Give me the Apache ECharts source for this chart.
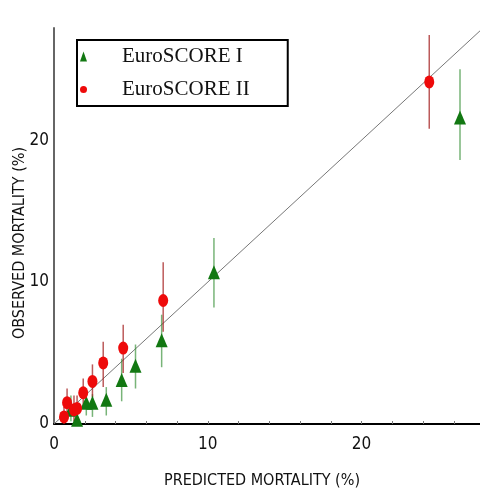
<!DOCTYPE html>
<html>
<head>
<meta charset="utf-8">
<style>
  html, body { margin: 0; padding: 0; background: #fff; }
  #charts { width: 480px; height: 493px; }
</style>
<script src="https://cdn.jsdelivr.net/npm/echarts@6/dist/echarts.min.js"></script>
</head>
<body>
<div id="charts"></div>
<script>
// EuroSCORE I (green triangles): predicted, observed, CI low / high
var euro1Pred = [1.1, 1.5, 2.1, 2.5, 3.4, 4.4, 5.3, 7.0, 10.4, 26.4];
var euro1Obs  = [1.0, 0.3, 1.5, 1.5, 1.7, 3.1, 4.1, 5.9, 10.7, 21.6];
var euro1Lo   = [0.2, 0.0, 0.6, 0.5, 0.6, 1.6, 2.5, 4.0, 8.2, 18.6];
var euro1Hi   = [2.0, 0.9, 2.2, 2.1, 2.6, 4.6, 5.6, 7.7, 13.1, 25.0];

// EuroSCORE II (red dots)
var euro2Pred = [0.65, 0.85, 1.3, 1.5, 1.9, 2.5, 3.2, 4.5, 7.1, 24.4];
var euro2Obs  = [0.5, 1.5, 1.0, 1.1, 2.2, 3.0, 4.3, 5.35, 8.7, 24.1];
var euro2Lo   = [0.0, 0.3, 0.2, 0.3, 1.2, 1.9, 2.6, 3.6, 6.5, 20.8];
var euro2Hi   = [1.2, 2.5, 2.0, 2.0, 3.2, 4.2, 5.8, 7.0, 11.4, 27.4];

var identityLine = [0, 30];
var seriesNames = ['EuroSCORE I', 'EuroSCORE II'];
var xTitle = 'PREDICTED MORTALITY (%)';
var yTitle = 'OBSERVED MORTALITY (%)';

function zipPoints(xs, ys) {
    return xs.map(function (x, i) { return [x, ys[i]]; });
}
function zipBars(xs, lo, hi) {
    return xs.map(function (x, i) { return [x, lo[i], hi[i]]; });
}

function errorBar(color) {
    return function (params, api) {
        var top = api.coord([api.value(0), api.value(2)]);
        var bot = api.coord([api.value(0), api.value(1)]);
        return {
            type: 'line',
            shape: { x1: top[0], y1: top[1], x2: bot[0], y2: bot[1] },
            style: { stroke: color, lineWidth: 1.5 }
        };
    };
}

var narrow = "'Liberation Sans Narrow', 'DejaVu Sans Condensed', 'Liberation Sans', sans-serif";

var myChart = echarts.init(document.getElementById('charts'));

var option = {
    animation: false,
    grid: { left: 54, right: 0, top: 28, bottom: 69, outerBoundsMode: 'none' },
    legend: {
        data: [
            { name: seriesNames[0], icon: 'triangle' },
            { name: seriesNames[1], icon: 'circle' }
        ],
        orient: 'vertical',
        left: 77,
        top: 40,
        itemWidth: 7,
        itemHeight: 10,
        itemGap: 12,
        padding: [6, 38, 6, 3],
        borderColor: '#000',
        borderWidth: 2,
        textStyle: {
            fontFamily: "'Liberation Serif', 'DejaVu Serif', serif",
            fontSize: 21,
            color: '#111',
            padding: [0, 0, 0, 30]
        }
    },
    xAxis: {
        type: 'value',
        min: 0,
        max: 27.7,
        interval: 10,
        name: xTitle,
        nameLocation: 'middle',
        nameGap: 49,
        nameTextStyle: { fontFamily: narrow, fontSize: 16, color: '#111', padding: [0, 10, 0, 0] },
        axisLine: { lineStyle: { color: '#000', width: 2 } },
        axisTick: { show: true, inside: true, length: 3, lineStyle: { color: '#777' } },
        minorTick: { show: true, splitNumber: 5, length: 3, lineStyle: { color: '#777' } },
        axisLabel: { fontFamily: narrow, fontSize: 17, color: '#111', margin: 12,
                     formatter: function (v) { return v % 10 === 0 ? v : ''; } },
        splitLine: { show: false }
    },
    yAxis: {
        type: 'value',
        min: 0,
        max: 27.9,
        interval: 10,
        name: yTitle,
        nameLocation: 'middle',
        nameGap: 26,
        nameMoveOverlap: false,
        nameTextStyle: { fontFamily: narrow, fontSize: 16, color: '#111', padding: [0, 34, 0, 0] },
        axisLine: { show: true, lineStyle: { color: '#666', width: 2 } },
        axisTick: { show: false },
        axisLabel: { fontFamily: narrow, fontSize: 17, color: '#111', margin: 5,
                     formatter: function (v) { return v % 10 === 0 ? v : ''; } },
        splitLine: { show: false }
    },
    series: [
        {
            type: 'line',
            data: identityLine.map(function (v) { return [v, v]; }),
            symbol: 'none',
            clip: true,
            lineStyle: { color: '#777', width: 1 },
            silent: true,
            z: 1
        },
        {
            type: 'custom',
            data: zipBars(euro1Pred, euro1Lo, euro1Hi),
            renderItem: errorBar('rgba(30,130,30,0.6)'),
            encode: { x: 0, y: [1, 2] },
            z: 2
        },
        {
            type: 'custom',
            data: zipBars(euro2Pred, euro2Lo, euro2Hi),
            renderItem: errorBar('rgba(160,20,20,0.7)'),
            encode: { x: 0, y: [1, 2] },
            z: 2
        },
        {
            name: seriesNames[0],
            type: 'scatter',
            data: zipPoints(euro1Pred, euro1Obs),
            symbol: 'triangle',
            symbolSize: [12, 14],
            itemStyle: { color: '#127812', opacity: 1 },
            z: 3
        },
        {
            name: seriesNames[1],
            type: 'scatter',
            data: zipPoints(euro2Pred, euro2Obs),
            symbol: 'circle',
            symbolSize: [10, 13],
            itemStyle: { color: '#ee0a0a', opacity: 1 },
            z: 4
        }
    ]
};

myChart.setOption(option);
</script>
</body>
</html>
